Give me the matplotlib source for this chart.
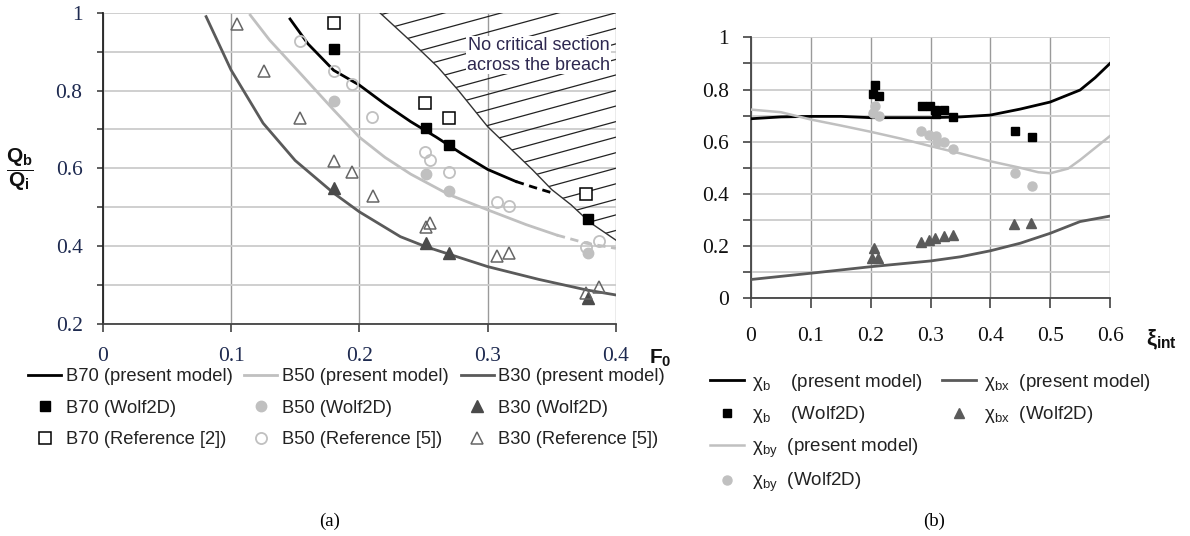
import numpy as np
import matplotlib
matplotlib.use("Agg")
import matplotlib.pyplot as plt
from matplotlib.lines import Line2D
from matplotlib.patches import Polygon

plt.rcParams['font.family'] = ['Liberation Sans', 'DejaVu Sans']
plt.rcParams['mathtext.fontset'] = 'custom'
plt.rcParams['mathtext.rm'] = 'Liberation Sans'
plt.rcParams['mathtext.it'] = 'Liberation Sans:italic'
plt.rcParams['mathtext.bf'] = 'Liberation Sans:bold'

# ---- panel (a) data ----
b70_F = [0.146, 0.16, 0.18, 0.2, 0.22, 0.24, 0.26, 0.28, 0.3, 0.322]
b70_Q = [0.984, 0.92, 0.852, 0.814, 0.765, 0.72, 0.68, 0.637, 0.597, 0.566]
b70_dash_F = [0.322, 0.335, 0.35]
b70_dash_Q = [0.566, 0.552, 0.537]

b50_F = [0.115, 0.13, 0.154, 0.18, 0.2, 0.22, 0.24, 0.27, 0.3, 0.33, 0.354]
b50_Q = [0.994, 0.93, 0.844, 0.75, 0.68, 0.628, 0.585, 0.532, 0.493, 0.455, 0.428]
b50_dash_F = [0.354, 0.377, 0.4]
b50_dash_Q = [0.428, 0.407, 0.394]

b30_F = [0.0806, 0.1, 0.125, 0.15, 0.18, 0.2, 0.232, 0.252, 0.3, 0.34, 0.377, 0.4]
b30_Q = [0.99, 0.853, 0.716, 0.62, 0.536, 0.488, 0.424, 0.398, 0.347, 0.314, 0.287, 0.274]

b70_wolf_F = [0.18, 0.252, 0.27, 0.378]
b70_wolf_Q = [0.908, 0.704, 0.66, 0.47]
b70_ref_F = [0.18, 0.2515, 0.27, 0.377]
b70_ref_Q = [0.973, 0.769, 0.728, 0.534]

b50_wolf_F = [0.18, 0.252, 0.27, 0.378]
b50_wolf_Q = [0.773, 0.584, 0.541, 0.381]
b50_ref_F = [0.154, 0.18, 0.194, 0.21, 0.2515, 0.255, 0.27, 0.307, 0.317, 0.377, 0.387]
b50_ref_Q = [0.928, 0.851, 0.818, 0.731, 0.643, 0.621, 0.591, 0.514, 0.504, 0.398, 0.412]

b30_wolf_F = [0.18, 0.252, 0.27, 0.378]
b30_wolf_Q = [0.55, 0.407, 0.381, 0.266]
b30_ref_F = [0.105, 0.126, 0.154, 0.18, 0.194, 0.211, 0.252, 0.255, 0.307, 0.317, 0.377, 0.387]
b30_ref_Q = [0.971, 0.85, 0.728, 0.619, 0.59, 0.529, 0.45, 0.46, 0.373, 0.381, 0.278, 0.295]

# limit of the "no critical section" zone
limit_F = [0.216, 0.242, 0.261, 0.277, 0.300, 0.335, 0.350, 0.365, 0.38, 0.4]
limit_Q = [1.0, 0.921, 0.861, 0.801, 0.707, 0.596, 0.545, 0.506, 0.46, 0.415]

# ---- panel (b) data ----
chib_x = [0, 0.05, 0.1, 0.15, 0.2, 0.25, 0.3, 0.35, 0.4, 0.45, 0.5, 0.55, 0.575, 0.6]
chib_y = [0.688, 0.695, 0.697, 0.697, 0.692, 0.692, 0.692, 0.695, 0.702, 0.725, 0.752, 0.798, 0.845, 0.90]
chiby_x = [0, 0.05, 0.1, 0.15, 0.2, 0.25, 0.3, 0.35, 0.4, 0.45, 0.48, 0.5, 0.53, 0.55, 0.6]
chiby_y = [0.723, 0.713, 0.685, 0.662, 0.638, 0.612, 0.583, 0.555, 0.525, 0.5, 0.483, 0.479, 0.497, 0.53, 0.622]
chibx_x = [0, 0.1, 0.2, 0.3, 0.35, 0.4, 0.45, 0.5, 0.55, 0.6]
chibx_y = [0.072, 0.096, 0.121, 0.143, 0.159, 0.182, 0.211, 0.249, 0.294, 0.315]

wolf_xi = [0.207, 0.204, 0.214, 0.285, 0.299, 0.308, 0.309, 0.323, 0.338, 0.441, 0.469]
wolf_chib = [0.817, 0.783, 0.776, 0.737, 0.737, 0.721, 0.706, 0.721, 0.693, 0.642, 0.617]
wolf_xi_by = [0.207, 0.204, 0.214, 0.284, 0.298, 0.309, 0.31, 0.323, 0.338, 0.441, 0.469]
wolf_chiby = [0.737, 0.711, 0.70, 0.641, 0.626, 0.62, 0.60, 0.60, 0.572, 0.481, 0.43]
wolf_xi_bx = [0.206, 0.203, 0.213, 0.284, 0.298, 0.308, 0.323, 0.338, 0.44, 0.468]
wolf_chibx = [0.191, 0.155, 0.155, 0.215, 0.223, 0.23, 0.239, 0.242, 0.285, 0.29]

BLACK = '#000000'
LIGHT = '#c0c0c0'
DARK = '#5a5a5a'
serif = 'Liberation Serif'

fig = plt.figure(figsize=(11.9, 5.36), dpi=100)

# ================= panel (a) =================
ax1 = fig.add_axes([0.0863, 0.396, 0.4313, 0.5802])
ax1.set_xlim(0, 0.4)
ax1.set_ylim(0.2, 1.0)
ax1.set_axisbelow(True)
ax1.set_xticks([0, 0.1, 0.2, 0.3, 0.4])
ax1.set_xticklabels(['0', '0.1', '0.2', '0.3', '0.4'])
ax1.set_yticks([0.2, 0.4, 0.6, 0.8, 1.0])
ax1.set_yticklabels(['0.2', '0.4', '0.6', '0.8', '1'])
ax1.set_yticks(np.arange(0.3, 1.0, 0.2), minor=True)
ax1.grid(axis='x', color='#9a9a9a', lw=1.0)
ax1.grid(axis='y', which='both', color='#cccccc', lw=1.3)
for lab in ax1.get_xticklabels() + ax1.get_yticklabels():
    lab.set_family(serif)
    lab.set_fontsize(15.5)
    lab.set_color('#1e2a50')
ax1.tick_params(axis='y', which='both', direction='out', length=4.5, width=1.1, color='#333333', pad=10)
ax1.tick_params(axis='x', direction='out', length=6, width=1.1, color='#333333', pad=11)
for s in ['top', 'right']:
    ax1.spines[s].set_visible(False)
ax1.spines['left'].set_color('#222222')
ax1.spines['left'].set_linewidth(1.3)
ax1.spines['bottom'].set_color('#444444')
ax1.spines['bottom'].set_linewidth(1.3)

# hatched zone
zone = Polygon(np.column_stack([limit_F + [0.4], limit_Q + [1.0]]), closed=True,
               facecolor='none', edgecolor='none')
ax1.add_patch(zone)
hx = np.array([0.15, 0.45])
for c in np.arange(0.2, 1.2, 0.04):
    hl, = ax1.plot(hx, c + 0.9 * (hx - 0.4), color='#222222', lw=0.9, zorder=2)
    hl.set_clip_path(zone)
ax1.plot(limit_F, limit_Q, color='#333333', lw=1.0, zorder=2)
ax1.text(0.3398, 0.891, 'No critical section\nacross the breach', ha='center', va='center',
         fontsize=13, color='#2e2850', linespacing=1.25, zorder=3,
         bbox=dict(facecolor='white', edgecolor='none', pad=0.5))

l70, = ax1.plot(b70_F, b70_Q, color=BLACK, lw=2.0, zorder=4, label='B70 (present model)')
ax1.plot(b70_dash_F, b70_dash_Q, color=BLACK, lw=2.0, ls=(0, (3, 2)), zorder=4)
l50, = ax1.plot(b50_F, b50_Q, color=LIGHT, lw=2.0, zorder=4, label='B50 (present model)')
ax1.plot(b50_dash_F, b50_dash_Q, color=LIGHT, lw=2.0, ls=(0, (3, 2)), zorder=4)
l30, = ax1.plot(b30_F, b30_Q, color=DARK, lw=2.0, zorder=4, label='B30 (present model)')

m70w, = ax1.plot(b70_wolf_F, b70_wolf_Q, ls='none', marker='s', ms=7.5, color=BLACK, zorder=5,
                 label='B70 (Wolf2D)')
m70r, = ax1.plot(b70_ref_F, b70_ref_Q, ls='none', marker='s', ms=8, mfc='white', mec=BLACK,
                 mew=1.1, zorder=5, label='B70 (Reference [2])')
m50w, = ax1.plot(b50_wolf_F, b50_wolf_Q, ls='none', marker='o', ms=7.5, color=LIGHT, zorder=5,
                 label='B50 (Wolf2D)')
m50r, = ax1.plot(b50_ref_F, b50_ref_Q, ls='none', marker='o', ms=8, mfc='none', mec=LIGHT,
                 mew=1.3, zorder=5, label='B50 (Reference [5])')
m30w, = ax1.plot(b30_wolf_F, b30_wolf_Q, ls='none', marker='^', ms=8, color='#4a4a4a', zorder=5,
                 label='B30 (Wolf2D)')
m30r, = ax1.plot(b30_ref_F, b30_ref_Q, ls='none', marker='^', ms=9, mfc='none', mec='#666666',
                 mew=1.1, zorder=5, label='B30 (Reference [5])')

fig.text(20 / 1190, 1 - 170 / 536, r'$\dfrac{\mathbf{Q_b}}{\mathbf{Q_i}}$', fontsize=15,
         ha='center', va='center', color='#111111')
fig.text(660 / 1190, 1 - 358 / 536, r'$\mathbf{F_0}$', fontsize=15, ha='center', va='center',
         color='#111111')

leg1 = fig.legend(handles=[l70, m70w, m70r, l50, m50w, m50r, l30, m30w, m30r], ncol=3,
                  loc='upper left', bbox_to_anchor=(28 / 1190, 1 - 368 / 536), frameon=False,
                  fontsize=13.2, handlelength=1.8, handletextpad=0.25, columnspacing=0.65,
                  labelspacing=0.8, borderpad=0, borderaxespad=0)
for t in leg1.get_texts():
    t.set_color('#222222')

fig.text(330 / 1190, 1 - 521 / 536, '(a)', family=serif, fontsize=13.5, ha='center', va='center')

# ================= panel (b) =================
ax2 = fig.add_axes([0.6311, 0.4435, 0.3017, 0.4869])
ax2.set_xlim(0, 0.6)
ax2.set_ylim(0, 1.0)
ax2.set_axisbelow(True)
ax2.set_xticks(np.arange(0, 0.61, 0.1))
ax2.set_xticklabels(['0', '0.1', '0.2', '0.3', '0.4', '0.5', '0.6'])
ax2.set_yticks(np.arange(0, 1.01, 0.2))
ax2.set_yticklabels(['0', '0.2', '0.4', '0.6', '0.8', '1'])
ax2.set_yticks(np.arange(0.1, 1.0, 0.2), minor=True)
ax2.grid(axis='x', color='#9a9a9a', lw=1.0)
ax2.grid(axis='y', which='both', color='#cccccc', lw=1.3)
for lab in ax2.get_xticklabels() + ax2.get_yticklabels():
    lab.set_family(serif)
    lab.set_fontsize(15.5)
    lab.set_color('#111111')
ax2.tick_params(axis='y', which='both', direction='out', length=5.8, width=1.1, color='#333333', pad=10)
ax2.tick_params(axis='x', direction='out', length=7, width=1.1, color='#333333', pad=14)
for s in ['top', 'right']:
    ax2.spines[s].set_visible(False)
ax2.spines['left'].set_color('#444444')
ax2.spines['left'].set_linewidth(1.3)
ax2.spines['bottom'].set_color('#444444')
ax2.spines['bottom'].set_linewidth(1.3)

c1, = ax2.plot(chib_x, chib_y, color=BLACK, lw=2.0, zorder=4, label=r'$\mathrm{χ}_{\mathrm{b}}$    (present model)')
c2, = ax2.plot(chiby_x, chiby_y, color=LIGHT, lw=1.8, zorder=4, label=r'$\mathrm{χ}_{\mathrm{by}}$  (present model)')
c3, = ax2.plot(chibx_x, chibx_y, color=DARK, lw=2.0, zorder=4, label=r'$\mathrm{χ}_{\mathrm{bx}}$  (present model)')
p1, = ax2.plot(wolf_xi, wolf_chib, ls='none', marker='s', ms=5.5, color=BLACK, zorder=5,
               label=r'$\mathrm{χ}_{\mathrm{b}}$    (Wolf2D)')
p2, = ax2.plot(wolf_xi_by, wolf_chiby, ls='none', marker='o', ms=6.5, color=LIGHT, zorder=5,
               label=r'$\mathrm{χ}_{\mathrm{by}}$  (Wolf2D)')
p3, = ax2.plot(wolf_xi_bx, wolf_chibx, ls='none', marker='^', ms=6.5, color='#5a5a5a', zorder=5,
               label=r'$\mathrm{χ}_{\mathrm{bx}}$  (Wolf2D)')
blank = Line2D([], [], ls='none', label=' ')

fig.text(1162 / 1190, 1 - 340 / 536, r'$\mathbf{ξ}_{\mathbf{int}}$', fontsize=16, ha='center',
         va='center', color='#111111')

leg2 = fig.legend(handles=[c1, p1, c2, p2, c3, p3, blank, blank], ncol=2, loc='upper left',
                  bbox_to_anchor=(710 / 1190, 1 - 372 / 536), frameon=False, fontsize=13.5,
                  handlelength=1.8, handletextpad=0.45, columnspacing=1.0, labelspacing=0.6,
                  borderpad=0, borderaxespad=0)
for t in leg2.get_texts():
    t.set_color('#222222')

fig.text(934 / 1190, 1 - 521 / 536, '(b)', family=serif, fontsize=13.5, ha='center', va='center')

fig.savefig('out.png', dpi=100)
